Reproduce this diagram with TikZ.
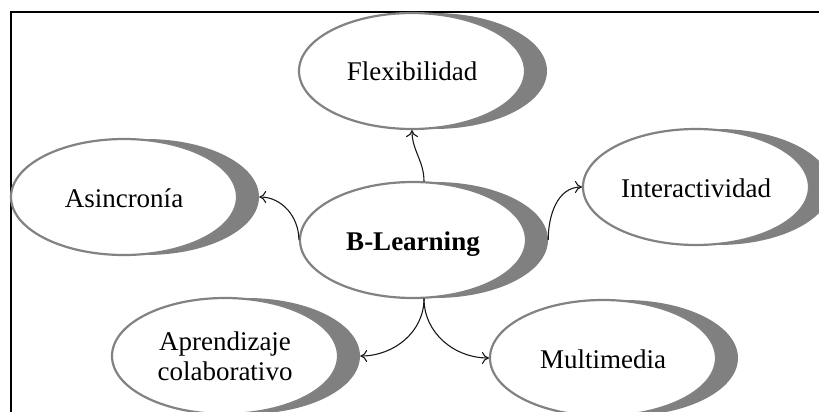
\documentclass[tikz,border=0pt]{standalone}
\usepackage{fontspec}
\setmainfont{Liberation Serif}
\usetikzlibrary{shapes.geometric,calc,arrows.meta}
\definecolor{shadc}{RGB}{128,128,128}
\definecolor{bordc}{RGB}{130,130,130}
\tikzset{
  bub/.style={ellipse, draw=bordc, line width=2.2pt, fill=white, minimum width=226pt, minimum height=116pt, inner sep=0pt, align=center, font=\fontsize{27}{30}\selectfont},
  oneline/.style={text height=20pt, text depth=0pt},
  twoline/.style={},
  shadbub/.style={ellipse, fill=shadc, minimum width=226pt, minimum height=116pt, inner sep=0pt},
  conn/.style={line width=1.1pt, draw=black!90, -{To[length=7pt,width=12pt]}},
  frame/.style={line width=2.4pt, draw=black}
}
\newcommand\bubble[5]{%
  \node[shadbub] (#1s) at (#2+22,#3) {};
  \node[bub,#5] (#1) at (#2,#3) {#4};
}
\begin{document}
\begin{tikzpicture}[x=1pt,y=-1pt]
\useasboundingbox (0,0) rectangle (819,412);
\draw[frame] (11,414) -- (11,12) -- (820,12);
\bubble{flex}{412}{71}{Flexibilidad}{oneline}
\bubble{asin}{124}{197}{Asincronía}{oneline}
\bubble{inter}{696}{187}{Interactividad}{oneline}
\bubble{apr}{225}{356}{Aprendizaje\\colaborativo}{twoline}
\bubble{mult}{603}{358}{Multimedia}{oneline}
\bubble{bl}{413}{240}{\textbf{B-Learning}}{oneline}
\coordinate (bltop) at ($(bl.north)!0.5!(bls.north)$);
\coordinate (blbot) at ($(bl.south)!0.5!(bls.south)$);
\draw[conn] (bltop) to[out=90,in=-90] (flex.south);
\draw[conn] (bl.west) to[out=90,in=0] (asins.east);
\draw[conn] (bls.east) to[out=90,in=180] (inter.west);
\draw[conn] (blbot) to[out=-90,in=0] (aprs.east);
\draw[conn] (blbot) to[out=-90,in=180] (mult.west);
\end{tikzpicture}
\end{document}
